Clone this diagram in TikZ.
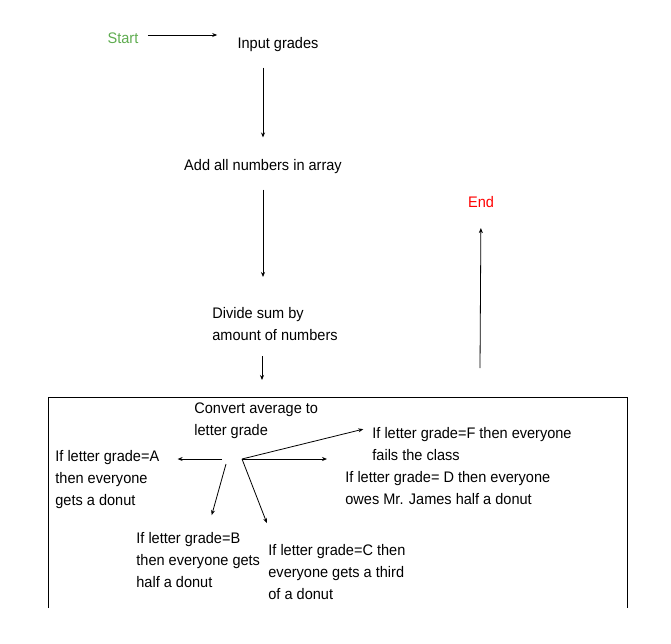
\documentclass[tikz,border=0pt]{standalone}
\usepackage{fontspec}
\setmainfont{Liberation Sans}[FakeStretch=0.95]
\usetikzlibrary{arrows.meta}
\definecolor{startGreen}{RGB}{95,172,80}
\definecolor{endRed}{RGB}{255,0,0}

\begin{document}
\begin{tikzpicture}[x=1pt,y=-1pt,line width=0.8pt,>={Stealth[length=5pt,width=4pt]}]
	\useasboundingbox (0,0) rectangle (671,643);
	\fontsize{15.3}{22}\selectfont
	
	\tikzstyle{stage}=[inner sep=0pt]
	\tikzstyle{block}=[inner sep=0pt,align=left,anchor=north west]
	
	\node[stage,text=startGreen](start) at (123,38){Start};
	\node[stage](input) at (278,45){Input grades};
	\node[stage](sum) at (263,167){Add all numbers in array};
	\node[block](divide) at (212,307){Divide sum by\\amount of numbers};
	\node[stage,text=endRed](end) at (481,202){End};
	
	% grade box
	\draw (48,608) -- (48,397) -- (627,397) -- (627,608);
	\coordinate(boxTop) at (262,397);
	\coordinate(endFoot) at (480,368);
	
	\node[block](convert) at (194,402){Convert average to\\letter grade};
	\node[block](gradeA) at (55,450){If letter grade=A\\then everyone\\gets a donut};
	\node[block](gradeB) at (136,532){If letter grade=B\\then everyone gets\\half a donut};
	\node[block](gradeC) at (268,544){If letter grade=C then\\everyone gets a third\\of a donut};
	\node[block](gradeD) at (345,471){If letter grade= D then everyone\\owes Mr. James half a donut};
	\node[block](gradeF) at (372,427){If letter grade=F then everyone\\fails the class};
	
	\coordinate(hub) at (242,459);
	\coordinate(hubA) at (222,459);
	\coordinate(hubB) at (226,464);
	
	\draw[->,shorten <=9pt,shorten >=20pt] ([yshift=3pt]start.east) -- ([yshift=3pt]start.east -| input.west);
	\draw[->,shorten <=15pt,shorten >=22pt] (input.south -| sum.north) -- (sum.north);
	\draw[->,shorten <=15pt,shorten >=30pt] (sum.south) -- (sum.south |- divide.north);
	\draw[->,shorten <=15pt,shorten >=17pt] (divide.south -| boxTop) -- (boxTop);
	\draw[->,shorten >=20pt] (endFoot) -- (end.south);
	
	\draw[->,shorten >=18pt] (hubA) -- (gradeA.east |- hubA);
	\draw[->,shorten >=17.6pt] (hubB) -- ([xshift=71pt]gradeB.north west);
	\draw[->,shorten >=22.5pt] (hub) -- ([xshift=7pt]gradeC.north west);
	\draw[->,shorten >=18pt] (hub) -- (gradeD.west |- hub);
	\draw[->,shorten >=9pt] (hub) -- (gradeF.north west);
	
\end{tikzpicture}
\end{document}
